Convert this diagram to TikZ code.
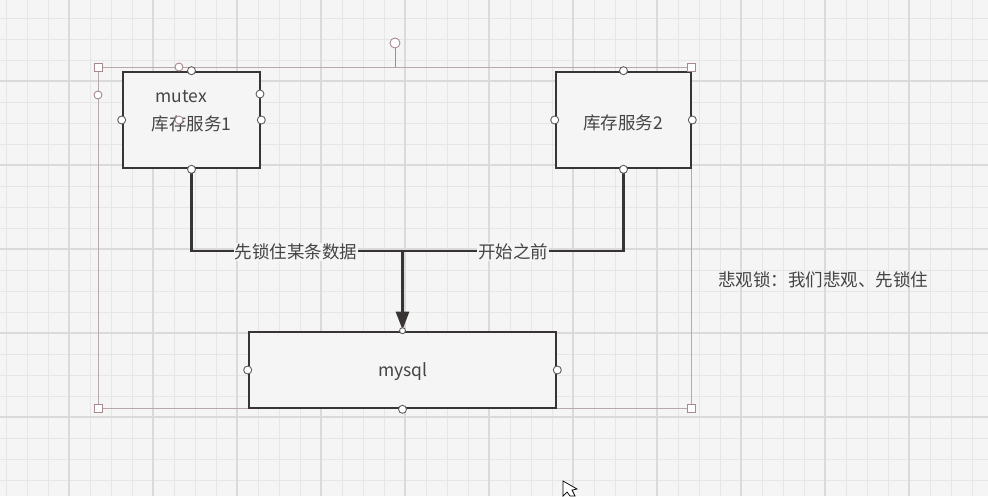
\documentclass[tikz,border=0pt]{standalone}
\usepackage{fontspec}
\setmainfont{Noto Sans CJK SC}
\usetikzlibrary{arrows.meta}
\definecolor{bgc}{HTML}{F5F5F5}
\definecolor{gridminor}{HTML}{E6E6E6}
\definecolor{gridmajor}{HTML}{DADADA}
\definecolor{ink}{HTML}{383434}
\definecolor{txt}{HTML}{444444}
\definecolor{sel}{HTML}{A88A8E}
\definecolor{selline}{HTML}{B8A8AA}
\tikzset{
  boxnode/.style={draw=ink, line width=2.6pt, fill=bgc, rectangle, inner sep=0pt},
  conn/.style={draw=ink, line width=2.6pt},
  arrowconn/.style={draw=ink, line width=2.6pt, -{Triangle[length=18pt,width=13pt]}, shorten >=1pt},
  lbl/.style={font=\fontsize{17.5}{19}\selectfont, text=txt, fill=bgc, inner sep=1pt},
  boxtext/.style={font=\fontsize{17.5}{19}\selectfont, text=txt},
  hcirc/.style={circle, draw=ink!80, fill=white, line width=0.9pt, minimum size=8pt, inner sep=0pt},
  selcirc/.style={circle, draw=sel, fill=white, line width=0.9pt, minimum size=8pt, inner sep=0pt},
  selsq/.style={rectangle, draw=sel, fill=white, line width=0.9pt, minimum size=8pt, inner sep=0pt},
}
\begin{document}
\begin{tikzpicture}[x=1pt,y=-1pt]
\useasboundingbox (0,0) rectangle (988,496);
\fill[bgc] (0,0) rectangle (988,496);
% grid
\foreach \i in {0,...,47} {\draw[gridminor, line width=0.8pt] ({6+21*\i},0) -- ({6+21*\i},496);}
\foreach \i in {0,...,23} {\draw[gridminor, line width=0.8pt] (0,{18+21*\i}) -- (988,{18+21*\i});}
\foreach \i in {0,...,11} {\draw[gridmajor, line width=1.1pt] ({69+84*\i},0) -- ({69+84*\i},496);}
\foreach \i in {0,...,5} {\draw[gridmajor, line width=1.1pt] (0,{81+84*\i}) -- (988,{81+84*\i});}

% selection frame
\draw[selline, line width=0.9pt] (98,67) rectangle (691,408);
\draw[sel, line width=1pt] (395,48) -- (395,67);

% nodes
\node[boxnode, minimum width=137pt, minimum height=96pt] (box1) at (191.5,120) {};
\node[boxnode, minimum width=135pt, minimum height=96pt] (box2) at (623.5,120) {};
\node[boxnode, minimum width=307pt, minimum height=76pt] (mysql) at (402.5,370) {};
\node[boxtext, anchor=west] (mutex) at (152,97) {mutex};
\node[boxtext, anchor=west] (t1) at (148,124) {库存服务1};
\node[boxtext] (t2) at (623,123) {库存服务2};
\node[boxtext] (t3) at (403,372) {mysql};
\node[font=\fontsize{17.5}{19}\selectfont, text=txt] (note) at (823,280) {悲观锁：我们悲观、先锁住};

% connectors
\coordinate (j) at (402.5,251);
\draw[conn] (box1.south) -- (box1.south |- j) -- (box2.south |- j) -- (box2.south);
\draw[arrowconn] (j) -- (mysql.north);
\node[lbl] (l1) at (296,252) {先锁住某条数据};
\node[lbl] (l2) at (513,252) {开始之前};

% connection handles
\foreach \p in {(box1.north),(box1.west),(box1.east),(box1.south),(260,94),
                (box2.north),(box2.west),(box2.east),(box2.south),
                (mysql.west),(mysql.east),(mysql.south)}
  {\node[hcirc] at \p {};}
\node[hcirc, minimum size=6pt] at (mysql.north) {};
\node[selcirc] at (179,120) {};
% selection handles
\node[selcirc] at (179,67) {};
\node[selcirc] at (98,95) {};
\node[selcirc, minimum size=10pt] at (395,43) {};
\foreach \p in {(98,67),(691,67),(98,408),(691,408)} {\node[selsq] at \p {};}

% mouse cursor
\draw[black, fill=white, line width=0.7pt] (563,481) -- (563,496) -- (567,492) -- (570,496) -- (575,496) -- (572,490) -- (577,489) -- cycle;
\end{tikzpicture}
\end{document}
